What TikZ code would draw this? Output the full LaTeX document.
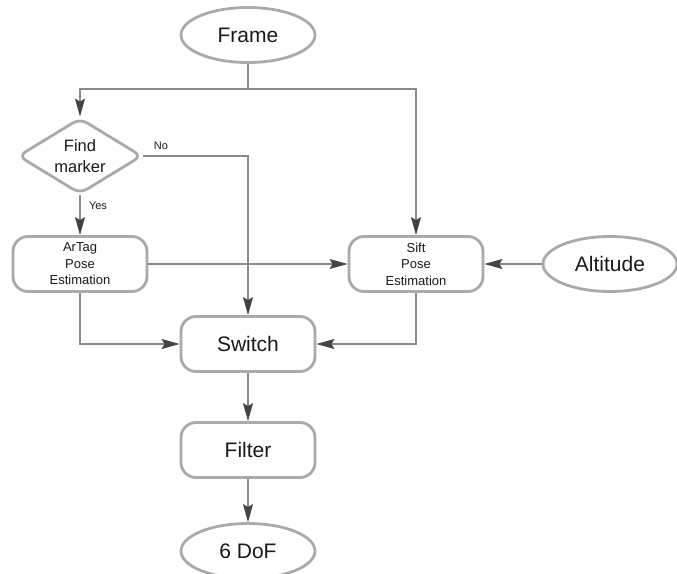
\documentclass[tikz,border=0pt]{standalone}
\usepackage{fontspec}
\setmainfont{Liberation Sans}
\usetikzlibrary{shapes.geometric,arrows.meta}
\definecolor{boxgray}{HTML}{AAAAAA}
\definecolor{linegray}{HTML}{8A8A8A}
\definecolor{tipgray}{HTML}{454545}
\begin{document}
\begin{tikzpicture}[x=1pt,y=-1pt,
  every node/.style={text=black!90, font=\fontsize{13}{16.5}\selectfont},
  ellnode/.style={draw=boxgray, line width=2.8pt, ellipse, minimum width=134pt, minimum height=55pt, inner sep=0pt, font=\fontsize{21}{23}\selectfont},
  roundbox/.style={draw=boxgray, line width=2.8pt, rounded corners=15pt, minimum width=134pt, minimum height=55pt, inner sep=0pt, align=center},
  bigbox/.style={roundbox, font=\fontsize{21}{23}\selectfont},
  decision/.style={draw=boxgray, line width=2.8pt, diamond, aspect=1.63, rounded corners=8pt, minimum width=124pt, minimum height=76pt, inner sep=0pt, align=center, font=\fontsize{16.5}{21}\selectfont},
  conn/.style={draw=linegray, line width=1.1pt, -{Stealth[length=18pt,width=10pt,inset=3pt,color=tipgray]}},
  plainconn/.style={draw=linegray, line width=1.1pt},
  lbl/.style={font=\fontsize{11}{13}\selectfont}
]
\useasboundingbox (0,0) rectangle (677,573);
\clip (0,0) rectangle (677,573);
\node[ellnode] (frame) at (248,35) {Frame};
\node[decision] (find) at (80,156) {Find\\marker};
\node[roundbox] (artag) at (80,264) {ArTag\\Pose\\Estimation};
\node[roundbox] (sift) at (416,264) {Sift\\Pose\\Estimation};
\node[ellnode] (alt) at (610,264) {Altitude};
\node[bigbox] (switch) at (248,344) {Switch};
\node[bigbox] (filter) at (248,450) {Filter};
\node[ellnode] (dof) at (248,551) {6 DoF};
\coordinate (split) at (248,89);
\draw[plainconn] (frame.south) -- (split);
\draw[conn] (split) -| (find.north);
\draw[conn] (split) -| (sift.north);
\draw[conn] (find.east) -| (switch.north);
\node[lbl] (no) at (161,146) {No};
\draw[conn] (find.south) -- (artag.north);
\node[lbl] (yes) at (98,206) {Yes};
\draw[conn] (artag.east) -- (sift.west);
\draw[conn] (alt.west) -- (sift.east);
\draw[conn] (artag.south) |- (switch.west);
\draw[conn] (sift.south) |- (switch.east);
\draw[conn] (switch.south) -- (filter.north);
\draw[conn] (filter.south) -- (dof.north);
\end{tikzpicture}
\end{document}
